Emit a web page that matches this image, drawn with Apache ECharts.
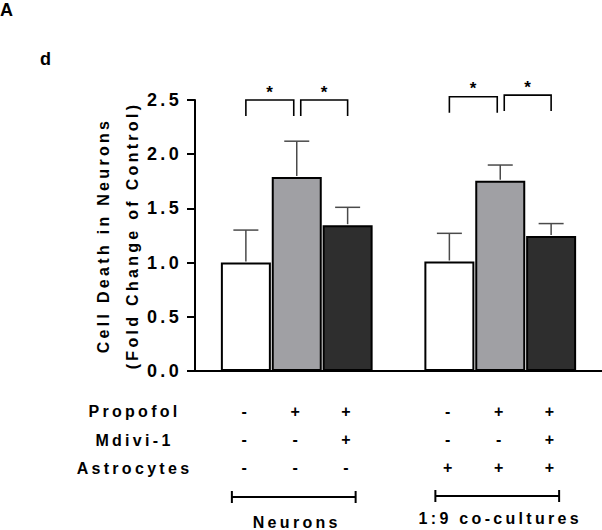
<!DOCTYPE html>
<html>
<head>
<meta charset="utf-8">
<script src="https://cdn.jsdelivr.net/npm/echarts@6/dist/echarts.min.js"></script>
<style>
  html, body { margin: 0; padding: 0; background: #fff; }
  #main { width: 602px; height: 530px; }
  #main text { letter-spacing: 3.3px; }
</style>
</head>
<body>
<div id="main"></div>
<script>
// ---- data ----
const rowLabels = ['Propofol', 'Mdivi-1', 'Astrocytes'];
const propofol  = ['-', '+', '+', '-', '+', '+'];
const mdivi     = ['-', '-', '+', '-', '-', '+'];
const astro     = ['-', '-', '-', '+', '+', '+'];
const means     = [1.00, 1.79, 1.345, 1.01, 1.755, 1.245];
const errors    = [0.30, 0.33, 0.165, 0.26, 0.145, 0.115];
const groups    = ['Neurons', '1:9 co-cultures'];
const sigPairs  = [[0, 1], [1, 2], [3, 4], [4, 5]];
const sigLevels = [2.5, 2.5, 2.53, 2.545];
const sigMarks  = ['*', '*', '*', '*'];
const yTicks    = { min: 0, max: 2.5, step: 0.5 };
const panelLetter = 'A';
const subLetter = 'd';
const yName = ['Cell Death in Neurons', '(Fold Change of Control)'];

// ---- layout helpers ----
const FONT = '"Liberation Sans", Arial, Helvetica, sans-serif';
const fills = ['#ffffff', '#a0a0a4', '#2e2e2e'];
const nSlots = 9;
const slotOf = k => 1 + Math.floor(k / 3) * 4 + (k % 3);
const slotToBar = {};
means.forEach((_, k) => { slotToBar[slotOf(k)] = k; });
const slotNames = Array.from({ length: nSlots }, (_, i) => 's' + i);

const chart = echarts.init(document.getElementById('main'), null, { renderer: 'svg', width: 602, height: 530 });

const option = {
  animation: false,
  backgroundColor: '#ffffff',
  textStyle: { fontFamily: FONT },
  grid: { left: 195, top: 100, right: 0, bottom: 159, containLabel: false, outerBoundsMode: 'none' },
  xAxis: {
    type: 'category',
    data: slotNames,
    boundaryGap: false,
    axisLine: { show: true, lineStyle: { color: '#000', width: 2 } },
    axisTick: { show: false },
    splitLine: { show: false },
    axisLabel: {
      interval: 0,
      margin: 26,
      color: '#000',
      fontFamily: FONT,
      fontSize: 16,
      fontWeight: 'bold',
      lineHeight: 28.3,
      formatter: (val, idx) => {
        const k = slotToBar[idx];
        if (k === undefined) return '';
        return [propofol[k], mdivi[k], astro[k]].join('\n');
      }
    }
  },
  yAxis: {
    type: 'value',
    min: yTicks.min,
    max: yTicks.max,
    interval: yTicks.step,
    name: yName.join('\n'),
    nameLocation: 'middle',
    nameGap: 48,
    nameMoveOverlap: false,
    nameTextStyle: { color: '#000', fontFamily: FONT, fontSize: 16, fontWeight: 'bold', lineHeight: 29 },
    axisLine: { show: true, lineStyle: { color: '#000', width: 2 } },
    axisTick: { show: true, length: 8, lineStyle: { color: '#000', width: 2 } },
    splitLine: { show: false },
    axisLabel: {
      margin: 13,
      color: '#000',
      fontFamily: FONT,
      fontSize: 18,
      fontWeight: 'bold',
      formatter: v => v.toFixed(1)
    }
  },
  graphic: [
    { type: 'text', left: 0, top: 1, style: { text: panelLetter, font: 'bold 18px ' + FONT, fill: '#000' } },
    { type: 'text', left: 40, top: 50, style: { text: subLetter, font: 'bold 18px ' + FONT, fill: '#000' } }
  ].concat(rowLabels.map((t, i) => ({
    type: 'text', x: 134.5, y: 411.7 + i * 28.3,
    style: { text: t, font: 'bold 16px ' + FONT, fill: '#000', textAlign: 'center', textVerticalAlign: 'middle' }
  }))),
  series: [
    {
      type: 'bar',
      barWidth: 50,
      z: 2,
      itemStyle: { borderColor: '#000', borderWidth: 2 },
      data: means.map((v, k) => ({ value: [slotOf(k), v], itemStyle: { color: fills[k % 3] } }))
    },
    {
      type: 'custom',
      z: 3,
      clip: false,
      data: means.map((v, k) => [slotOf(k), v, errors[k]]),
      renderItem: (params, api) => {
        const x = api.value(0), m = api.value(1), e = api.value(2);
        const p0 = api.coord([x, m]);
        const p1 = api.coord([x, m + e]);
        const half = 12.5;
        const st = { stroke: '#4a4a4a', lineWidth: 1.5 };
        return {
          type: 'group',
          children: [
            { type: 'line', shape: { x1: p0[0], y1: p0[1] - 1, x2: p1[0], y2: p1[1] }, style: st },
            { type: 'line', shape: { x1: p1[0] - half, y1: p1[1], x2: p1[0] + half, y2: p1[1] }, style: st }
          ]
        };
      }
    },
    {
      type: 'custom',
      z: 4,
      clip: false,
      data: sigPairs.map((p, i) => [slotOf(p[0]), slotOf(p[1]), sigLevels[i], p[0], p[1], i]),
      renderItem: (params, api) => {
        const a = api.value(3), b = api.value(4);
        const pa = api.coord([api.value(0), api.value(2)]);
        const pb = api.coord([api.value(1), api.value(2)]);
        const x1 = pa[0] + (a % 3 === 1 ? 4 : 0);
        const x2 = pb[0] - (b % 3 === 1 ? 3 : 0);
        const y = pa[1];
        const leg = 16;
        return {
          type: 'group',
          children: [
            { type: 'polyline', shape: { points: [[x1, y + leg], [x1, y], [x2, y], [x2, y + leg]] },
              style: { stroke: '#000', lineWidth: 1.6, fill: null } },
            { type: 'text', x: (x1 + x2) / 2 + 1.5, y: y - 8,
              style: { text: sigMarks[api.value(5)], font: 'bold 17px ' + FONT, fill: '#000', textAlign: 'center', textVerticalAlign: 'middle' } }
          ]
        };
      }
    },
    {
      type: 'custom',
      z: 4,
      clip: false,
      data: groups.map((g, gi) => [slotOf(gi * 3), slotOf(gi * 3 + 2), gi]),
      renderItem: (params, api) => {
        const gi = api.value(2);
        const pa = api.coord([api.value(0), 0]);
        const pb = api.coord([api.value(1), 0]);
        const x1 = pa[0] - 14, x2 = pb[0] + 8;
        const y = pa[1] + 126 - gi;
        const labelDy = [25, 22][gi];
        const st = { stroke: '#000', lineWidth: 2 };
        return {
          type: 'group',
          children: [
            { type: 'line', shape: { x1: x1, y1: y, x2: x2, y2: y }, style: st },
            { type: 'line', shape: { x1: x1, y1: y - 6, x2: x1, y2: y + 6 }, style: st },
            { type: 'line', shape: { x1: x2, y1: y - 6, x2: x2, y2: y + 6 }, style: st },
            { type: 'text', x: (x1 + x2) / 2 + 3, y: y + labelDy,
              style: { text: groups[gi], font: 'bold 16px ' + FONT, fill: '#000', textAlign: 'center', textVerticalAlign: 'middle' } }
          ]
        };
      }
    }
  ]
};
chart.setOption(option);
</script>
</body>
</html>
